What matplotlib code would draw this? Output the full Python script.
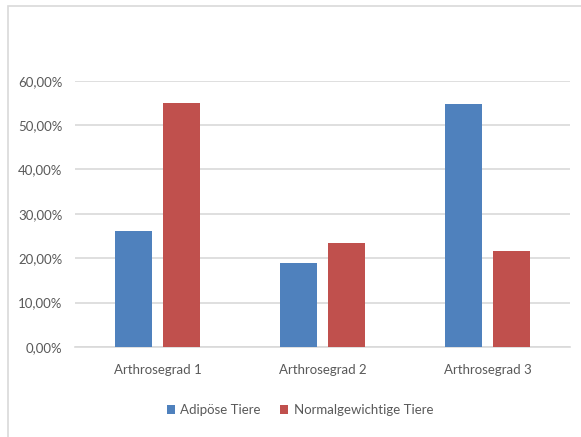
import matplotlib
matplotlib.use("Agg")
import matplotlib.pyplot as plt
from matplotlib.patches import Rectangle
import numpy as np

categories = ["Arthrosegrad 1", "Arthrosegrad 2", "Arthrosegrad 3"]
series_names = ["Adipöse Tiere", "Normalgewichtige Tiere"]
adipoese = [26.2, 19.0, 54.8]
normalgewichtig = [55.0, 23.4, 21.6]
yticks = [0, 10, 20, 30, 40, 50, 60]
ytick_labels = ["0,00%", "10,00%", "20,00%", "30,00%", "40,00%", "50,00%", "60,00%"]

plt.rcParams["font.family"] = ["Lato", "DejaVu Sans"]

blue = "#4f81bd"
red = "#c0504d"
text_gray = "#595959"
grid_gray = "#d9d9d9"

fig = plt.figure(figsize=(5.81, 4.37), dpi=100)
fig.patches.append(Rectangle((8 / 581, -0.02), 1.05, 1 - 6 / 437 + 0.02,
                             transform=fig.transFigure, fill=False,
                             edgecolor=grid_gray, linewidth=1.2))

ax = fig.add_axes([75 / 581, 1 - 347 / 437, 495 / 581, (347 - 80.7) / 437])
x = np.arange(len(categories))
w = 0.222
off = 0.144
ax.bar(x - off, adipoese, w, color=blue, label=series_names[0], zorder=3)
ax.bar(x + off, normalgewichtig, w, color=red, label=series_names[1], zorder=3)

ax.set_xlim(-0.5, len(categories) - 0.5)
ax.set_ylim(0, 60)
ax.set_yticks(yticks)
ax.set_yticklabels(ytick_labels)
ax.set_xticks(x)
ax.set_xticklabels(categories)
ax.grid(axis="y", color=grid_gray, linewidth=1.2, zorder=0)
for s in ["top", "right", "left"]:
    ax.spines[s].set_visible(False)
ax.spines["bottom"].set_color(grid_gray)
ax.spines["bottom"].set_linewidth(1.2)
ax.tick_params(axis="both", length=0, colors=text_gray, labelsize=9.5)
ax.tick_params(axis="y", pad=9)
ax.tick_params(axis="x", pad=12)

leg = fig.legend(loc="center", bbox_to_anchor=(300 / 581, 1 - 410 / 437),
                 ncol=2, frameon=False, fontsize=9.5, handlelength=0.6,
                 handleheight=0.6, handletextpad=0.4, columnspacing=1.5)
for t in leg.get_texts():
    t.set_color(text_gray)

fig.savefig("out.png", dpi=100)
